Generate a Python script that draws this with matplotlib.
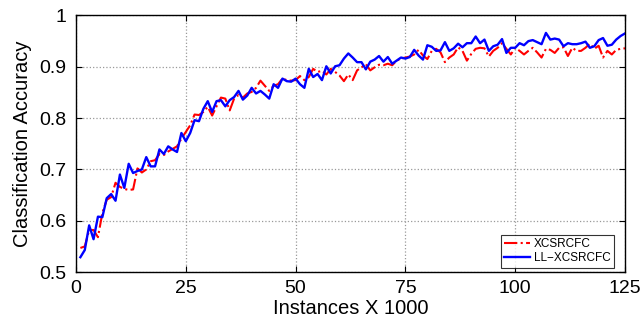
import matplotlib
matplotlib.use("Agg")
import matplotlib.pyplot as plt
import numpy as np

plt.rcParams['font.family'] = ['Liberation Sans', 'DejaVu Sans']

instances = list(range(1, 126))

xcsrcfc = [
    0.547, 0.550, 0.582, 0.582, 0.568, 0.615, 0.641, 0.646, 0.674, 0.666,
    0.662, 0.660, 0.661, 0.702, 0.694, 0.700, 0.716, 0.718, 0.730, 0.728,
    0.735, 0.740, 0.745, 0.760, 0.773, 0.786, 0.807, 0.806, 0.812, 0.822,
    0.805, 0.823, 0.840, 0.838, 0.815, 0.838, 0.845, 0.840, 0.848, 0.851,
    0.859, 0.873, 0.863, 0.853, 0.863, 0.866, 0.877, 0.874, 0.873, 0.874,
    0.882, 0.874, 0.880, 0.896, 0.890, 0.892, 0.885, 0.896, 0.890, 0.883,
    0.872, 0.885, 0.874, 0.893, 0.899, 0.905, 0.893, 0.899, 0.904, 0.903,
    0.906, 0.903, 0.912, 0.916, 0.918, 0.920, 0.924, 0.933, 0.922, 0.915,
    0.931, 0.935, 0.928, 0.909, 0.918, 0.924, 0.938, 0.931, 0.912, 0.925,
    0.935, 0.937, 0.936, 0.920, 0.931, 0.937, 0.946, 0.935, 0.924, 0.937,
    0.931, 0.924, 0.931, 0.937, 0.928, 0.918, 0.935, 0.933, 0.927, 0.937,
    0.938, 0.921, 0.937, 0.931, 0.931, 0.937, 0.945, 0.935, 0.941, 0.918,
    0.931, 0.924, 0.933, 0.935, 0.936,
]

ll_xcsrcfc = [
    0.529, 0.543, 0.591, 0.564, 0.608, 0.607, 0.644, 0.652, 0.639, 0.690,
    0.664, 0.711, 0.693, 0.697, 0.700, 0.724, 0.706, 0.706, 0.739, 0.730,
    0.745, 0.739, 0.734, 0.771, 0.755, 0.771, 0.796, 0.794, 0.818, 0.833,
    0.812, 0.833, 0.835, 0.823, 0.835, 0.841, 0.853, 0.836, 0.844, 0.859,
    0.848, 0.853, 0.846, 0.838, 0.866, 0.859, 0.877, 0.872, 0.871, 0.877,
    0.866, 0.859, 0.896, 0.880, 0.886, 0.874, 0.901, 0.887, 0.901, 0.903,
    0.916, 0.926, 0.918, 0.909, 0.909, 0.895, 0.910, 0.914, 0.921, 0.910,
    0.919, 0.906, 0.912, 0.918, 0.916, 0.919, 0.933, 0.922, 0.914, 0.942,
    0.939, 0.931, 0.932, 0.948, 0.931, 0.936, 0.945, 0.938, 0.946, 0.946,
    0.959, 0.946, 0.953, 0.931, 0.940, 0.943, 0.954, 0.927, 0.937, 0.937,
    0.946, 0.942, 0.950, 0.952, 0.948, 0.944, 0.966, 0.953, 0.955, 0.953,
    0.940, 0.946, 0.944, 0.944, 0.946, 0.949, 0.937, 0.940, 0.952, 0.956,
    0.941, 0.943, 0.953, 0.960, 0.965,
]

x_ticks = [0, 25, 50, 75, 100, 125]
y_ticks = [0.5, 0.6, 0.7, 0.8, 0.9, 1.0]
y_tick_labels = ["0.5", "0.6", "0.7", "0.8", "0.9", "1"]

fig = plt.figure(figsize=(6.44, 3.29), dpi=100)
ax = fig.add_axes([0.118, 0.173, 0.8525, 0.780])

ax.plot(instances, xcsrcfc, color='red', linestyle='-.', linewidth=1.5, label='XCSRCFC')
ax.plot(instances, ll_xcsrcfc, color='blue', linestyle='-', linewidth=1.7, label='LL\u2212XCSRCFC')

ax.set_xlim(0, 125)
ax.set_ylim(0.5, 1.0)
ax.set_xticks(x_ticks)
ax.set_yticks(y_ticks)
ax.set_yticklabels(y_tick_labels)
ax.grid(True, linestyle=':', color='#999999', linewidth=0.9)
ax.tick_params(direction='in', top=True, right=True, labelsize=14, length=4, width=0.8)
ax.tick_params(axis='x', pad=6)
ax.tick_params(axis='y', pad=7)
for s in ax.spines.values():
    s.set_linewidth(1.0)

ax.set_xlabel('Instances X 1000', fontsize=14.5, labelpad=1)
ax.set_ylabel('Classification Accuracy', fontsize=14.5, labelpad=5)

leg = ax.legend(loc='lower right', bbox_to_anchor=(0.98, 0.016), fontsize=8.5,
                frameon=True, fancybox=False,
                edgecolor='black', handlelength=2.2, handletextpad=0.3,
                borderpad=0.3, labelspacing=0.2, borderaxespad=0.0)
leg.get_frame().set_linewidth(0.8)

fig.savefig('out.png', dpi=100)
